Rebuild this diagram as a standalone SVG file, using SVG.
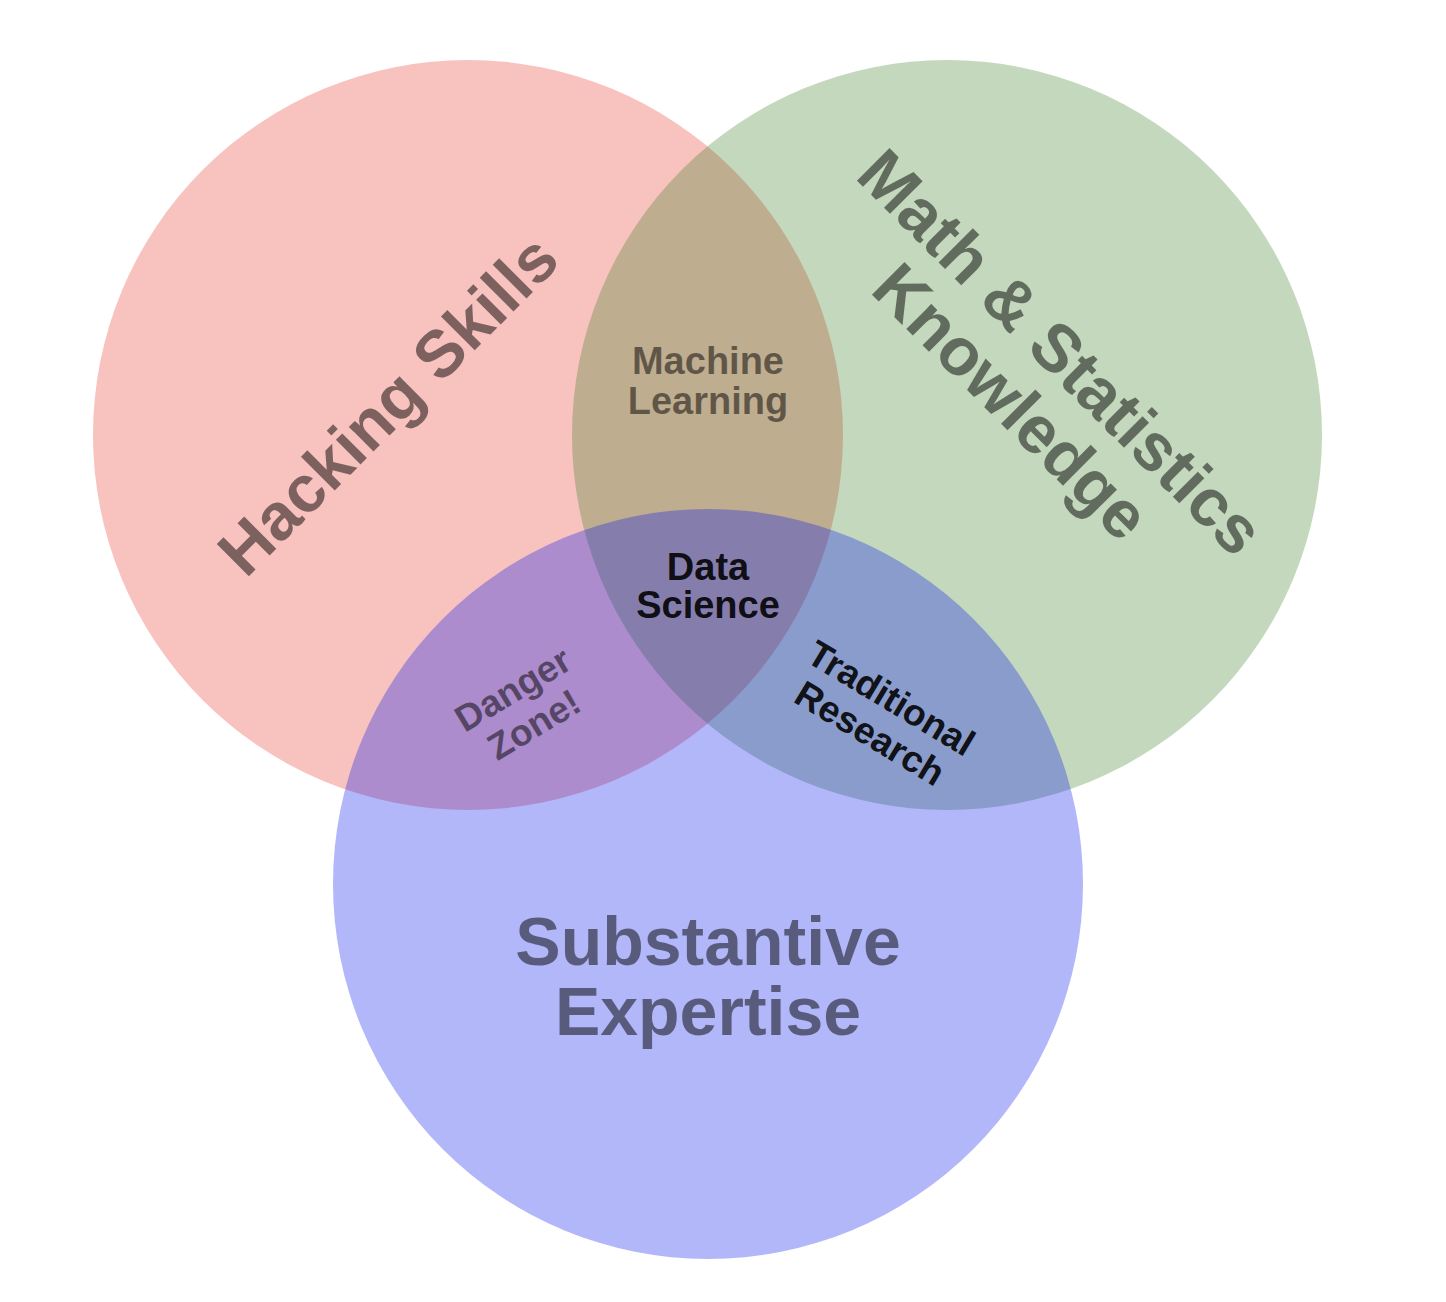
<svg xmlns="http://www.w3.org/2000/svg" width="1446" height="1302" viewBox="0 0 1446 1302">
<style>
.c{fill-opacity:0.3}
text{font-family:"Liberation Sans",Arial,Helvetica,sans-serif;font-weight:bold;text-anchor:middle}
.big{font-size:68px}
.mid{font-size:38px}
.sm{font-size:37px}
.soft{fill:#000;fill-opacity:0.5}
.dark{fill:#000;fill-opacity:0.9}
</style>
<rect width="1446" height="1302" fill="#ffffff"/>
<g id="hacking-circle"><circle class="c" cx="468" cy="435" r="375" fill="#e8342a"/></g>
<g id="math-circle"><circle class="c" cx="947" cy="435" r="375" fill="#3a7d23"/></g>
<g id="substantive-circle"><circle class="c" cx="708" cy="884" r="375" fill="#0012ee"/></g>
<g id="hacking-label"><text class="big soft" style="font-size:66px" transform="translate(392,409) rotate(-45)" x="0" y="17">Hacking Skills</text></g>
<g id="math-label"><text class="big soft" style="font-size:67px" transform="translate(1034,379) rotate(45)"><tspan x="0" y="-15">Math &amp; Statistics</tspan><tspan x="0" y="55">Knowledge</tspan></text></g>
<g id="substantive-label"><text class="big soft"><tspan x="708" y="965">Substantive</tspan><tspan x="708" y="1035">Expertise</tspan></text></g>
<g id="machine-learning"><text class="mid soft"><tspan x="708" y="374">Machine</tspan><tspan x="708" y="414">Learning</tspan></text></g>
<g id="data-science"><text class="mid dark"><tspan x="708" y="580">Data</tspan><tspan x="708" y="618">Science</tspan></text></g>
<g id="danger-zone"><text class="sm soft" transform="translate(524,708) rotate(-31)"><tspan x="0" y="-9">Danger</tspan><tspan x="0" y="32">Zone!</tspan></text></g>
<g id="traditional-research"><text class="sm dark" transform="translate(881,715) rotate(31)"><tspan x="0" y="-7">Traditional</tspan><tspan x="0" y="34">Research</tspan></text></g>
</svg>
